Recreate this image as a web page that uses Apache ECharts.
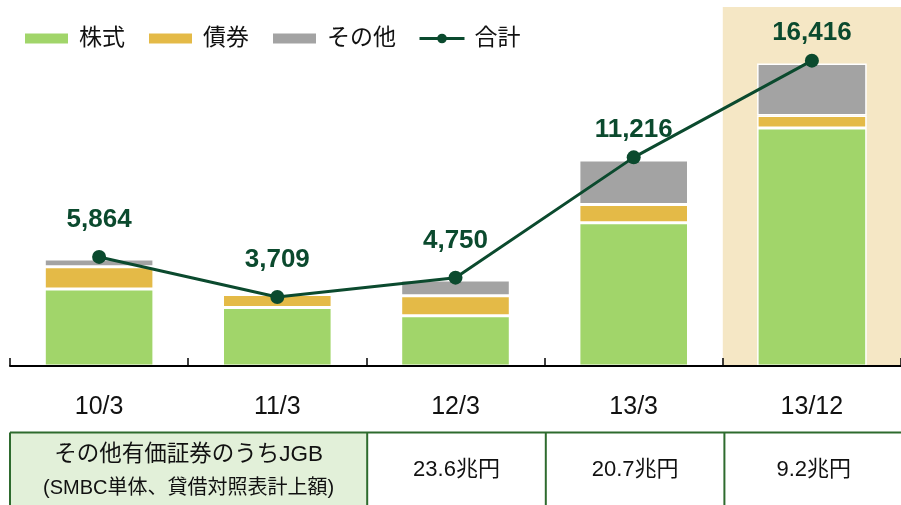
<!DOCTYPE html>
<html>
<head>
<meta charset="utf-8">
<script src="https://cdn.jsdelivr.net/npm/echarts@6/dist/echarts.min.js"></script>
<style>
  html, body { margin: 0; padding: 0; background: #fff; }
  #main { width: 901px; height: 505px; }
</style>
</head>
<body>
<div id="main"></div>
<script>
// data (億円)
const categories = ['10/3', '11/3', '12/3', '13/3', '13/12']
const stocks = [4140, 3140, 2700, 7700, 12800]
const bonds = [1200, 710, 1080, 980, 670]
const others = [410, 0, 840, 2390, 2790]
const totals = [5864, 3709, 4750, 11216, 16416]
const highlight = ['-', '-', '-', '-', 19300]   // 13/12 shaded column
const tableHead = ['その他有価証券のうちJGB', '(SMBC単体、貸借対照表計上額)']
const tableValues = ['23.6兆円', '20.7兆円', '9.2兆円']

const labelGap = [17, 17, 17, 8, 8]

const dark = '#0B4A2E'
const lineCol = '#2E6B2E'
const font = '"Liberation Sans", Arial, "Noto Sans CJK JP", sans-serif'

const gridLeft = 10, gridWidth = 893, gridTop = 7, gridHeight = 359
const cw = gridWidth / categories.length
const tableTop = 432.5

const myChart = echarts.init(document.getElementById('main'))

// table under the axis
const graphics = [
  { type: 'rect', shape: { x: gridLeft, y: tableTop, width: cw * 2, height: 80 }, style: { fill: '#E2F0D9' }, silent: true },
  { type: 'line', shape: { x1: gridLeft, y1: tableTop, x2: 901, y2: tableTop }, style: { stroke: lineCol, lineWidth: 2 } },
  { type: 'line', shape: { x1: gridLeft, y1: tableTop, x2: gridLeft, y2: 510 }, style: { stroke: lineCol, lineWidth: 2 } },
  { type: 'text', x: gridLeft + cw, y: 455, style: { text: tableHead[0], font: '22.5px ' + font, fill: '#111', align: 'center', verticalAlign: 'middle' } },
  { type: 'text', x: gridLeft + cw, y: 488, style: { text: tableHead[1], font: '20px ' + font, fill: '#111', align: 'center', verticalAlign: 'middle' } }
]
tableValues.forEach((v, i) => {
  const x0 = gridLeft + cw * (i + 2)
  graphics.push({ type: 'line', shape: { x1: x0, y1: tableTop, x2: x0, y2: 510 }, style: { stroke: lineCol, lineWidth: 2 } })
  graphics.push({ type: 'text', x: x0 + cw / 2, y: 470, style: { text: v, font: '22px ' + font, fill: '#111', align: 'center', verticalAlign: 'middle' } })
})

const barStyle = (color) => ({ color: color, borderColor: '#fff', borderWidth: 1.5 })

myChart.setOption({
  animation: false,
  textStyle: { fontFamily: font },
  legend: {
    left: 23,
    top: 27,
    padding: 0,
    itemWidth: 45,
    itemHeight: 12,
    itemGap: 22,
    textStyle: { fontSize: 23, color: '#111', padding: [0, 0, 0, 5] },
    data: [
      { name: '株式', icon: 'rect' },
      { name: '債券', icon: 'rect' },
      { name: 'その他', icon: 'rect' },
      { name: '合計', lineStyle: { width: 3 } }
    ]
  },
  grid: { left: gridLeft, top: gridTop, width: gridWidth, height: gridHeight, containLabel: false },
  xAxis: [
    {
      type: 'category',
      data: categories,
      z: 10,
      axisLine: { lineStyle: { color: '#000', width: 2 } },
      axisTick: { show: true, inside: true, length: 8, lineStyle: { color: '#000', width: 1.5 } },
      axisLabel: { fontSize: 25, color: '#111', margin: 29 }
    },
    { type: 'category', data: categories, show: false }
  ],
  yAxis: { type: 'value', min: 0, max: 19300, show: false, splitLine: { show: false } },
  series: [
    {
      name: 'bg', type: 'bar', xAxisIndex: 1, data: highlight, barWidth: '100%',
      itemStyle: { color: '#F5E7C5' }, silent: true, z: 1
    },
    { name: '株式', type: 'bar', stack: 'total', barWidth: '61.5%', data: stocks, itemStyle: barStyle('#A1D56A'), z: 2 },
    { name: '債券', type: 'bar', stack: 'total', data: bonds, itemStyle: barStyle('#E4BA47'), z: 2 },
    { name: 'その他', type: 'bar', stack: 'total', data: others, itemStyle: barStyle('#A3A3A3'), z: 2 },
    {
      name: '合計', type: 'line', z: 5,
      data: totals.map((v, i) => ({ value: v, label: { distance: labelGap[i] } })),
      symbol: 'circle', symbolSize: 14,
      lineStyle: { color: dark, width: 3 },
      itemStyle: { color: dark },
      label: {
        show: true, position: 'top', color: dark, fontSize: 26, fontWeight: 'bold',
        formatter: p => p.value.toLocaleString('en-US')
      }
    }
  ],
  graphic: graphics
})
</script>
</body>
</html>
